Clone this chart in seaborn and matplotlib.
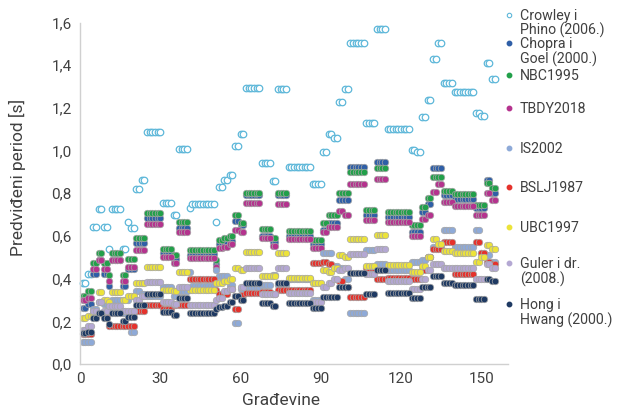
import numpy as np
import pandas as pd
import matplotlib
matplotlib.use("Agg")
import matplotlib.pyplot as plt
from matplotlib.lines import Line2D
from matplotlib.legend_handler import HandlerLine2D
import seaborn as sns

# building groups (consecutive buildings sharing a plateau value)
group_sizes = [2, 2, 2, 2, 2, 1, 4, 2, 1, 2,
               2, 2, 6, 4, 2, 4, 1, 9, 1, 2,
               2, 2, 2, 2, 6, 4, 2, 4, 9, 4,
               2, 2, 2, 2, 2, 6, 4, 4, 9, 2,
               2, 2, 2, 2, 2, 4, 8, 2, 2, 2, 2]

crowley = [0.38, 0.42, 0.64, 0.725, 0.64, 0.54, 0.725, 0.54, 0.665, 0.635,
           0.82, 0.86, 1.085, 0.753, 0.70, 1.006, 0.73, 0.75, 0.664, 0.83,
           0.862, 0.886, 1.02, 1.076, 1.295, 0.94, 0.858, 1.287, 0.925, 0.842,
           0.995, 1.076, 1.06, 1.226, 1.29, 1.506, 1.128, 1.568, 1.10, 1.003,
           0.995, 1.159, 1.237, 1.428, 1.506, 1.315, 1.276, 1.175, 1.162, 1.412, 1.336]

chopra = [0.262, 0.28, 0.42, 0.487, 0.42, 0.365, 0.487, 0.365, 0.445, 0.445,
          0.565, 0.565, 0.683, 0.52, 0.49, 0.636, 0.51, 0.515, 0.47, 0.56,
          0.565, 0.575, 0.672, 0.65, 0.79, 0.60, 0.57, 0.79, 0.60, 0.56,
          0.63, 0.66, 0.66, 0.77, 0.77, 0.925, 0.70, 0.945, 0.69, 0.62,
          0.62, 0.71, 0.75, 0.917, 0.917, 0.79, 0.775, 0.73, 0.73, 0.862, 0.80]

nbc = [0.32, 0.343, 0.472, 0.519, 0.472, 0.416, 0.519, 0.416, 0.49, 0.49,
       0.589, 0.589, 0.706, 0.537, 0.51, 0.667, 0.534, 0.534, 0.487, 0.58,
       0.59, 0.60, 0.70, 0.66, 0.80, 0.631, 0.59, 0.80, 0.623, 0.58,
       0.66, 0.70, 0.70, 0.80, 0.80, 0.90, 0.72, 0.92, 0.71, 0.65,
       0.65, 0.737, 0.776, 0.875, 0.875, 0.812, 0.795, 0.745, 0.745, 0.85, 0.823]

tbdy = [0.30, 0.31, 0.445, 0.487, 0.445, 0.389, 0.487, 0.389, 0.456, 0.456,
        0.534, 0.534, 0.656, 0.50, 0.473, 0.62, 0.495, 0.495, 0.456, 0.542,
        0.55, 0.56, 0.628, 0.62, 0.753, 0.59, 0.553, 0.75, 0.584, 0.542,
        0.62, 0.64, 0.64, 0.717, 0.70, 0.842, 0.675, 0.866, 0.667, 0.60,
        0.60, 0.68, 0.70, 0.807, 0.842, 0.76, 0.742, 0.70, 0.70, 0.80, 0.768]

is2002 = [0.105, 0.105, 0.26, 0.29, 0.28, 0.25, 0.30, 0.24, 0.30, 0.15,
          0.34, 0.33, 0.32, 0.36, 0.32, 0.34, 0.43, 0.366, 0.44, 0.41,
          0.41, 0.37, 0.19, 0.35, 0.36, 0.37, 0.417, 0.37, 0.40, 0.30,
          0.52, 0.52, 0.46, 0.45, 0.40, 0.237, 0.534, 0.47, 0.44, 0.48,
          0.48, 0.487, 0.50, 0.55, 0.55, 0.628, 0.55, 0.628, 0.52, 0.51, 0.48]

bslj = [0.14, 0.14, 0.22, 0.24, 0.22, 0.18, 0.18, 0.18, 0.18, 0.18,
        0.25, 0.25, 0.276, 0.26, 0.276, 0.276, 0.397, 0.397, 0.347, 0.33,
        0.33, 0.35, 0.256, 0.323, 0.334, 0.339, 0.33, 0.347, 0.347, 0.472,
        0.48, 0.47, 0.45, 0.39, 0.36, 0.315, 0.45, 0.40, 0.404, 0.40,
        0.40, 0.44, 0.50, 0.54, 0.54, 0.573, 0.42, 0.573, 0.52, 0.48, 0.47]

ubc = [0.215, 0.225, 0.24, 0.339, 0.30, 0.29, 0.339, 0.30, 0.319, 0.319,
       0.378, 0.378, 0.456, 0.347, 0.34, 0.432, 0.347, 0.347, 0.38, 0.381,
       0.39, 0.40, 0.448, 0.44, 0.526, 0.412, 0.41, 0.52, 0.404, 0.38,
       0.44, 0.43, 0.45, 0.51, 0.50, 0.584, 0.46, 0.605, 0.464, 0.43,
       0.43, 0.46, 0.503, 0.586, 0.56, 0.531, 0.519, 0.48, 0.50, 0.558, 0.54]

guler = [0.16, 0.18, 0.25, 0.29, 0.25, 0.27, 0.272, 0.25, 0.25, 0.25,
         0.30, 0.32, 0.386, 0.29, 0.28, 0.362, 0.276, 0.276, 0.30, 0.31,
         0.34, 0.35, 0.32, 0.36, 0.451, 0.33, 0.33, 0.45, 0.331, 0.29,
         0.36, 0.38, 0.40, 0.44, 0.45, 0.516, 0.42, 0.537, 0.389, 0.35,
         0.35, 0.40, 0.44, 0.47, 0.47, 0.45, 0.448, 0.40, 0.40, 0.47, 0.45]

hong = [0.144, 0.15, 0.215, 0.24, 0.215, 0.187, 0.237, 0.20, 0.22, 0.22,
        0.276, 0.276, 0.328, 0.245, 0.23, 0.308, 0.24, 0.24, 0.26, 0.268,
        0.27, 0.29, 0.319, 0.30, 0.378, 0.284, 0.27, 0.378, 0.284, 0.262,
        0.315, 0.315, 0.315, 0.362, 0.362, 0.425, 0.33, 0.44, 0.331, 0.308,
        0.308, 0.362, 0.362, 0.41, 0.41, 0.381, 0.37, 0.303, 0.303, 0.40, 0.39]

labels = ["Crowley i\nPhino (2006.)", "Chopra i\nGoel (2000.)", "NBC1995",
          "TBDY2018", "IS2002", "BSLJ1987", "UBC1997",
          "Guler i dr.\n(2008.)", "Hong i\nHwang (2000.)"]
series = [crowley, chopra, nbc, tbdy, is2002, bslj, ubc, guler, hong]
colors = ["#5db7d9", "#2f5fa7", "#22a04a", "#b5338e", "#8eaad8",
          "#e5322c", "#ece33a", "#b4a8d3", "#1f3a63"]

x_ticks = [0, 30, 60, 90, 120, 150]
y_ticks = [0.0, 0.2, 0.4, 0.6, 0.8, 1.0, 1.2, 1.4, 1.6]
y_ticklabels = ["0,0", "0,2", "0,4", "0,6", "0,8", "1,0", "1,2", "1,4", "1,6"]

n_build = sum(group_sizes)
buildings = np.arange(1, n_build + 1)
frames = []
for lab, vals in zip(labels, series):
    frames.append(pd.DataFrame({"Gradevina": buildings,
                                "T": np.repeat(vals, group_sizes),
                                "Model": lab}))
df = pd.concat(frames, ignore_index=True)

sns.set_style("white")
plt.rcParams["font.family"] = ["Roboto", "DejaVu Sans"]

fig = plt.figure(figsize=(6.23, 4.13), dpi=100)
ax = fig.add_axes([80 / 623, 1 - 364 / 413, 428 / 623, (364 - 22.5) / 413])

for lab, col in zip(labels, colors):
    sub = df[df["Model"] == lab]
    if lab.startswith("Crowley"):
        sns.scatterplot(data=sub, x="Gradevina", y="T", ax=ax, s=22,
                        facecolor="white", edgecolor=col, linewidth=0.9,
                        clip_on=False, legend=False)
    else:
        sns.scatterplot(data=sub, x="Gradevina", y="T", ax=ax, s=22,
                        color=col, edgecolor="#a6a6a6", linewidth=0.5,
                        clip_on=False, legend=False)

ax.set_xlim(0, 160)
ax.set_ylim(0, 1.6)
ax.set_xticks(x_ticks)
ax.set_xticklabels([str(t) for t in x_ticks])
ax.set_yticks(y_ticks)
ax.set_yticklabels(y_ticklabels)
ax.tick_params(length=0, labelsize=11, colors="#404040", pad=6)
for s in ["top", "right"]:
    ax.spines[s].set_visible(False)
for s in ["left", "bottom"]:
    ax.spines[s].set_color("#d0d0d0")
    ax.spines[s].set_linewidth(1.0)
ax.set_xlabel("Građevine", fontsize=12.5, color="#404040")
ax.set_ylabel("Predviđeni period [s]", fontsize=12.5, color="#404040")
ax.xaxis.set_label_coords(0.47, -0.085)
ax.yaxis.set_label_coords(-0.125, 0.545)


class FirstLineHandler(HandlerLine2D):
    """Puts the legend marker beside the first line of a two-line label."""
    def __init__(self, shift, **kw):
        super().__init__(**kw)
        self.shift = shift

    def create_artists(self, legend, orig_handle, xdescent, ydescent,
                       width, height, fontsize, trans):
        arts = super().create_artists(legend, orig_handle, xdescent, ydescent,
                                      width, height, fontsize, trans)
        for a in arts:
            a.set_ydata(np.asarray(a.get_ydata()) + self.shift * fontsize)
        return arts


# one legend entry per slot, placed like the reference
legend_centers_px = [23.5, 52, 76, 109, 149, 188, 228, 272, 313]
for lab, col, yc in zip(labels, colors, legend_centers_px):
    if lab.startswith("Crowley"):
        h = Line2D([], [], marker="o", linestyle="", markersize=3.2,
                   markerfacecolor="white", markeredgecolor=col, markeredgewidth=0.8)
    else:
        h = Line2D([], [], marker="o", linestyle="", markersize=3.2,
                   markerfacecolor=col, markeredgecolor=col)
    hmap = {h: FirstLineHandler(0.67)} if "\n" in lab else None
    leg = fig.legend([h], [lab], loc="center left",
                     bbox_to_anchor=(505 / 623, 1 - yc / 413),
                     frameon=False, fontsize=10.2, handlelength=0.5,
                     handletextpad=0.55, borderaxespad=0, borderpad=0,
                     handler_map=hmap)
    for t in leg.get_texts():
        t.set_color("#404040")
        t.set_linespacing(1.0)

fig.savefig("out.png", dpi=100)
